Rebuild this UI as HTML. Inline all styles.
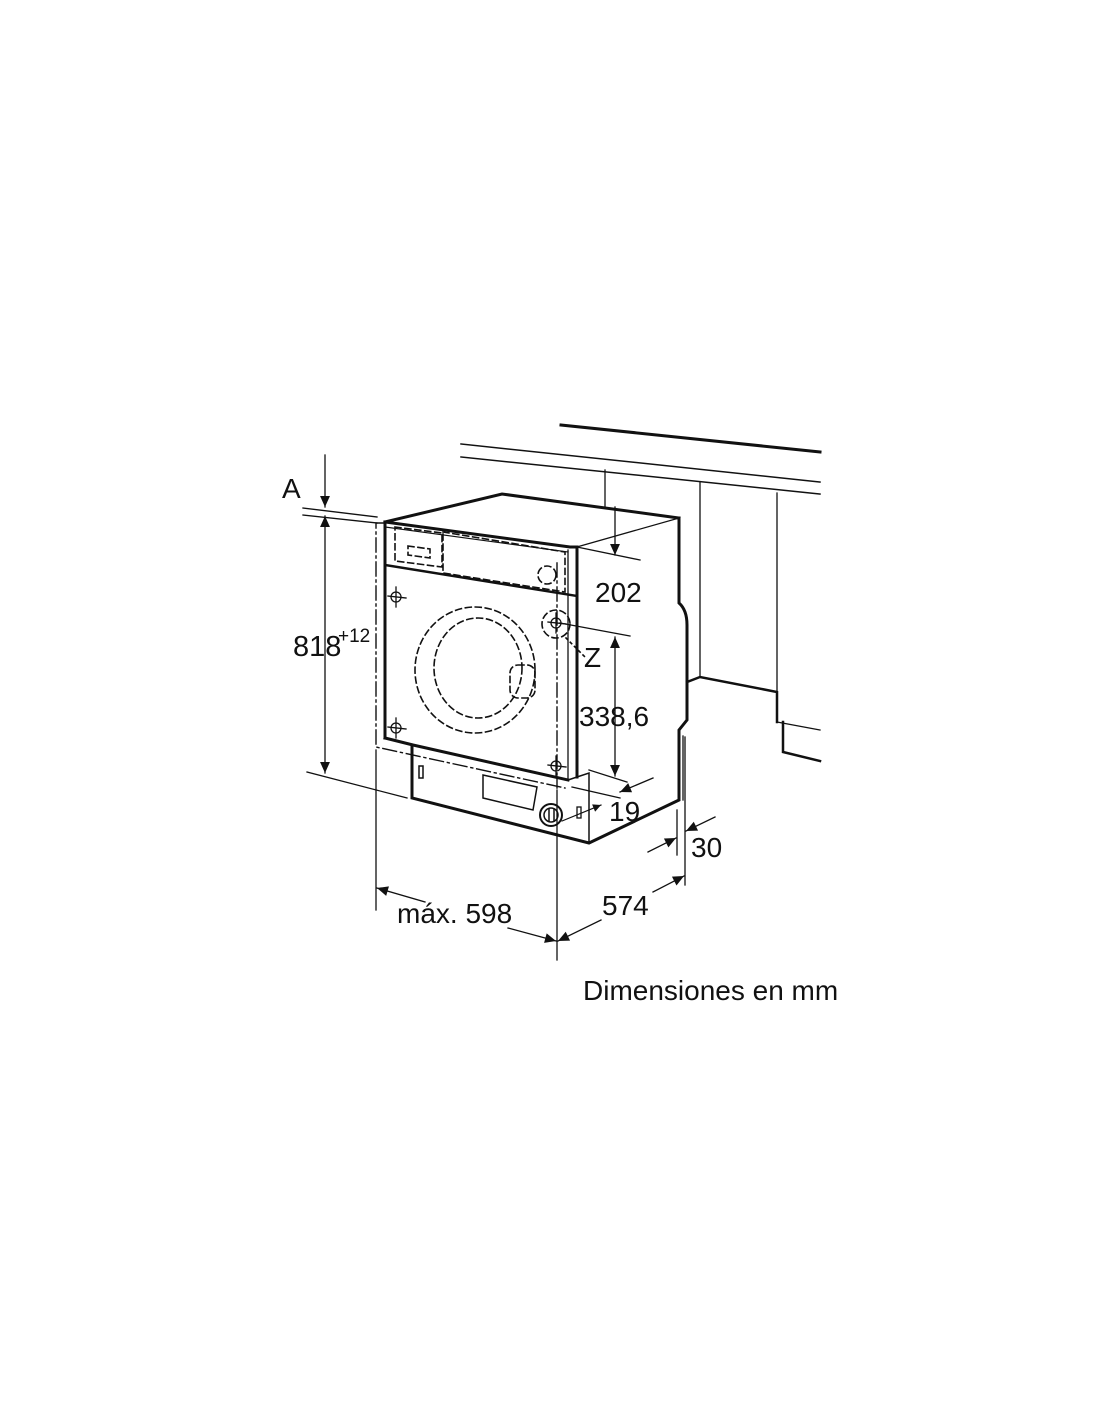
<!DOCTYPE html>
<html><head><meta charset="utf-8"><style>
html,body{margin:0;padding:0;background:#fff;}
svg{display:block}
text{font-family:"Liberation Sans",sans-serif;fill:#111}
</style></head><body>
<svg width="1100" height="1422" viewBox="0 0 1100 1422" xmlns="http://www.w3.org/2000/svg">
<defs>
<marker id="ah" viewBox="0 0 10 10" refX="10" refY="5" markerWidth="9" markerHeight="8" orient="auto-start-reverse" markerUnits="userSpaceOnUse"><path d="M0,0 L10,5 L0,10 z" fill="#111"/></marker>
<marker id="ab" viewBox="0 0 10 10" refX="10" refY="5" markerWidth="17" markerHeight="11" orient="auto-start-reverse" markerUnits="userSpaceOnUse"><path d="M0,0.5 L10,5 L0,9.5 z" fill="#111"/></marker>
</defs>
<g stroke="#111" fill="none" stroke-linecap="square">
<line x1="561" y1="425" x2="820" y2="452" stroke-width="3"/>
<line x1="461" y1="444" x2="820" y2="482" stroke-width="1.5"/>
<line x1="461" y1="457" x2="820" y2="494" stroke-width="1.5"/>
<line x1="605" y1="470" x2="605" y2="507" stroke-width="1.3"/>
<line x1="700" y1="482" x2="700" y2="677" stroke-width="1.3"/>
<line x1="777" y1="493" x2="777" y2="692" stroke-width="1.3"/>
<polyline points="687,682 700,677 777,692 777,722" stroke-width="2.5"/>
<line x1="777" y1="722" x2="820" y2="730" stroke-width="1.3"/>
<polyline points="783,722 783,752 820,761" stroke-width="2.5"/>
<polyline points="385,522 502,494 679,518" stroke-width="3"/>
<line x1="679" y1="518" x2="577" y2="547" stroke-width="1.3"/>
<path d="M679,518 L679,603 Q687,610 687,625 L687,720 L679,730 L679,800 L589,843 L412,798 L412,745" stroke-width="3"/>
<line x1="683" y1="736" x2="683" y2="800" stroke-width="1.3"/>
<polyline points="385,522 570,547 577,547" stroke-width="3"/>
<line x1="385" y1="522" x2="385" y2="738" stroke-width="3"/>
<polyline points="385,738 413,745 568,780" stroke-width="3"/>
<line x1="385" y1="527" x2="568" y2="552" stroke-width="1.2"/>
<line x1="568" y1="550" x2="568" y2="780" stroke-width="1.3"/>
<line x1="577" y1="547" x2="577" y2="777" stroke-width="3"/>
<polyline points="568,780 577,777 589,773 589,843" stroke-width="1.5"/>
<line x1="385" y1="565" x2="577" y2="596" stroke-width="2.5"/>
<g stroke-dasharray="6,4" stroke-width="1.6">
<polygon points="395,527 442,533 442,567 395,561"/>
<polygon points="408,546 430,549 430,558 408,555"/>
<polygon points="443,532 565,552 565,592 443,573"/>
<circle cx="547" cy="575" r="9"/>
<ellipse cx="475" cy="670" rx="60" ry="63"/>
<ellipse cx="478" cy="668" rx="44" ry="50"/>
<rect x="510" y="665" width="25" height="33" rx="8"/>
<circle cx="556" cy="624" r="14"/>
</g>
<g stroke-dasharray="14,4,2,4" stroke-width="1.4">
<polyline points="385,523 376,523 376,747 565,788"/>
<line x1="557" y1="563" x2="557" y2="788"/>
</g>
<g stroke-width="1.3">
<circle cx="396" cy="597" r="5"/><line x1="388" y1="596" x2="406" y2="598"/><line x1="396" y1="587" x2="396" y2="607"/>
<circle cx="396" cy="728" r="5"/><line x1="388" y1="727" x2="406" y2="729"/><line x1="396" y1="718" x2="396" y2="738"/>
<circle cx="556" cy="623" r="5"/><line x1="548" y1="622" x2="566" y2="624"/><line x1="556" y1="613" x2="556" y2="633"/>
<circle cx="556" cy="766" r="5"/><line x1="548" y1="765" x2="566" y2="767"/><line x1="556" y1="756" x2="556" y2="776"/>
</g>
<rect x="419" y="766" width="4" height="12" stroke-width="1.5"/>
<polygon points="483,775 537,787 533,810 483,798" stroke-width="1.5"/>
<circle cx="551" cy="815" r="11" stroke-width="2"/>
<circle cx="551" cy="815" r="7" stroke-width="1.5"/>
<line x1="549" y1="809" x2="549" y2="821" stroke-width="1.5"/>
<line x1="554" y1="809" x2="554" y2="821" stroke-width="1.5"/>
<rect x="577" y="807" width="4" height="11" stroke-width="1.3"/>
<line x1="562" y1="821" x2="601" y2="805" stroke-width="1.2" marker-end="url(#ah)"/>
<line x1="303" y1="508" x2="377" y2="517" stroke-width="1.3"/>
<line x1="303" y1="515" x2="377" y2="523" stroke-width="1.3"/>
<line x1="307" y1="772" x2="407" y2="798" stroke-width="1.3"/>
<line x1="325" y1="455" x2="325" y2="507" stroke-width="1.3" marker-end="url(#ab)"/>
<line x1="325" y1="516" x2="325" y2="773" stroke-width="1.3" marker-start="url(#ab)" marker-end="url(#ab)"/>
<line x1="615" y1="507" x2="615" y2="555" stroke-width="1.3" marker-end="url(#ab)"/>
<line x1="577" y1="547" x2="640" y2="560" stroke-width="1.3"/>
<line x1="560" y1="623" x2="630" y2="636" stroke-width="1.3"/>
<line x1="615" y1="637" x2="615" y2="776" stroke-width="1.3" marker-start="url(#ab)" marker-end="url(#ab)"/>
<line x1="589" y1="770" x2="627" y2="782" stroke-width="1.3"/>
<line x1="572" y1="787" x2="620" y2="798" stroke-width="1.3"/>
<line x1="653" y1="778" x2="620" y2="792" stroke-width="1.3" marker-end="url(#ab)"/>
<line x1="566" y1="638" x2="585" y2="657" stroke-width="1.6" stroke-dasharray="2,4"/>
<line x1="677" y1="810" x2="677" y2="855" stroke-width="1.3"/>
<line x1="685" y1="737" x2="685" y2="885" stroke-width="1.3"/>
<line x1="648" y1="852" x2="676" y2="838" stroke-width="1.3" marker-end="url(#ab)"/>
<line x1="715" y1="817" x2="686" y2="831" stroke-width="1.3" marker-end="url(#ab)"/>
<line x1="653" y1="892" x2="684" y2="876" stroke-width="1.3" marker-end="url(#ab)"/>
<line x1="601" y1="920" x2="558" y2="941" stroke-width="1.3" marker-end="url(#ab)"/>
<line x1="376" y1="750" x2="376" y2="910" stroke-width="1.3"/>
<line x1="425" y1="902" x2="377" y2="888" stroke-width="1.3" marker-end="url(#ab)"/>
<line x1="508" y1="928" x2="556" y2="941" stroke-width="1.3" marker-end="url(#ab)"/>
<line x1="557" y1="790" x2="557" y2="960" stroke-width="1.3"/>
</g>
<text x="282" y="498" font-size="28">A</text>
<text x="293" y="656" font-size="29">818</text>
<text x="338" y="642" font-size="19">+12</text>
<text x="595" y="602" font-size="28">202</text>
<text x="584" y="667" font-size="28">Z</text>
<text x="579" y="726" font-size="28">338,6</text>
<text x="609" y="821" font-size="28">19</text>
<text x="691" y="857" font-size="28">30</text>
<text x="602" y="915" font-size="28">574</text>
<text x="397" y="923" font-size="28">máx. 598</text>
<text x="583" y="1000" font-size="28">Dimensiones en mm</text>
</svg>
</body></html>
